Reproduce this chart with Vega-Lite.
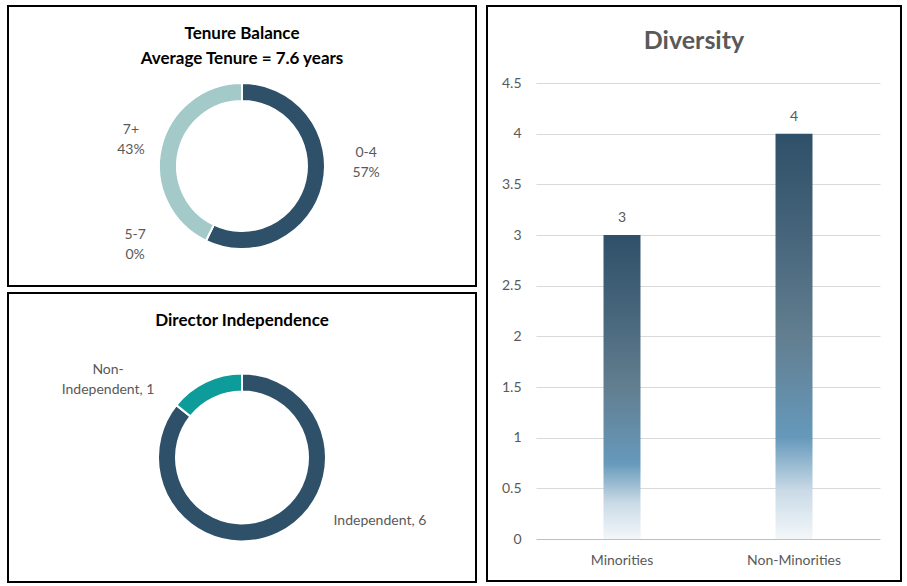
{
  "$schema": "https://vega.github.io/schema/vega-lite/v6.json",
  "padding": {"left": 7, "top": 5, "right": 5, "bottom": 4},
  "background": "white",
  "config": {
    "font": "Lato",
    "view": {"stroke": "black", "strokeWidth": 2}
  },
  "datasets": {
    "tenure": [
      {"cat": "0-4", "count": 4, "ord": 1, "label": "0-4\n57%"},
      {"cat": "5-7", "count": 0, "ord": 2, "label": "5-7\n0%"},
      {"cat": "7+", "count": 3, "ord": 3, "label": "7+\n43%"}
    ],
    "indep": [
      {"cat": "Independent", "count": 6, "ord": 1, "label": "Independent, 6"},
      {"cat": "Non-Independent", "count": 1, "ord": 2, "label": "Non-\nIndependent, 1"}
    ],
    "diversity": [
      {"group": "Minorities", "count": 3},
      {"group": "Non-Minorities", "count": 4}
    ]
  },
  "spacing": 9,
  "resolve": {"scale": {"color": "independent"}},
  "hconcat": [
    {
      "spacing": 5,
      "resolve": {"scale": {"color": "independent"}},
      "vconcat": [
        {
          "width": 468,
          "height": 280,
          "view": {"stroke": "black", "strokeWidth": 2},
          "title": {"text": ["Tenure Balance", "Average Tenure = 7.6 years"], "fontSize": 17, "fontWeight": "bold", "color": "black", "offset": -62, "baseline": "top", "frame": "group", "anchor": "middle", "lineHeight": 25},
          "data": {"name": "tenure"},
          "encoding": {
            "theta": {"field": "count", "type": "quantitative", "stack": true},
            "order": {"field": "ord", "type": "quantitative"}
          },
          "layer": [
            {
              "mark": {"type": "arc", "outerRadius": 83, "innerRadius": 65, "stroke": "white", "strokeWidth": 2, "yOffset": 20},
              "encoding": {
                "color": {"field": "cat", "type": "nominal", "scale": {"domain": ["0-4", "5-7", "7+"], "range": ["#2E5069", "#7FA9B5", "#A3C9C8"]}, "legend": null}
              }
            },
            {
              "mark": {"type": "text", "radius": 115, "yOffset": 20, "dx": 12, "dy": -39, "fontSize": 14, "color": "#595959", "lineBreak": "\n", "lineHeight": 20},
              "encoding": {"text": {"condition": {"test": "datum.cat === '0-4'", "field": "label"}, "value": ""}}
            },
            {
              "mark": {"type": "text", "radius": 115, "yOffset": 20, "dx": 1, "dy": -10, "fontSize": 14, "color": "#595959", "lineBreak": "\n", "lineHeight": 20},
              "encoding": {"text": {"condition": {"test": "datum.cat === '7+'", "field": "label"}, "value": ""}}
            },
            {
              "mark": {"type": "text", "radius": 115, "yOffset": 20, "dx": -57, "dy": -35, "fontSize": 14, "color": "#595959", "lineBreak": "\n", "lineHeight": 20},
              "encoding": {"text": {"condition": {"test": "datum.cat === '5-7'", "field": "label"}, "value": ""}}
            }
          ]
        },
        {
          "width": 468,
          "height": 289,
          "view": {"stroke": "black", "strokeWidth": 2},
          "title": {"text": "Director Independence", "fontSize": 17, "fontWeight": "bold", "color": "black", "offset": -37, "baseline": "top", "frame": "group", "anchor": "middle"},
          "data": {"name": "indep"},
          "encoding": {
            "theta": {"field": "count", "type": "quantitative", "stack": true},
            "order": {"field": "ord", "type": "quantitative"}
          },
          "layer": [
            {
              "mark": {"type": "arc", "outerRadius": 84, "innerRadius": 66, "stroke": "white", "strokeWidth": 2, "yOffset": 20},
              "encoding": {
                "color": {"field": "cat", "type": "nominal", "scale": {"domain": ["Independent", "Non-Independent"], "range": ["#2E5069", "#0E9C9A"]}, "legend": null}
              }
            },
            {
              "mark": {"type": "text", "radius": 115, "yOffset": 20, "dx": 88, "dy": -40, "fontSize": 14, "color": "#595959", "lineBreak": "\n", "lineHeight": 20},
              "encoding": {"text": {"condition": {"test": "datum.cat === 'Independent'", "field": "label"}, "value": ""}}
            },
            {
              "mark": {"type": "text", "radius": 115, "yOffset": 20, "dx": -84, "dy": 16, "fontSize": 14, "color": "#595959", "lineBreak": "\n", "lineHeight": 20},
              "encoding": {"text": {"condition": {"test": "datum.cat === 'Non-Independent'", "field": "label"}, "value": ""}}
            }
          ]
        }
      ]
    },
    {
      "width": 414,
      "height": 575,
      "title": {"text": "Diversity", "fontSize": 25, "fontWeight": "bold", "color": "#595959", "offset": -48, "baseline": "top", "frame": "group", "anchor": "middle"},
      "data": {"name": "diversity"},
      "encoding": {
        "x": {
          "field": "group", "type": "nominal", "sort": null,
          "scale": {"range": [49, 393], "paddingInner": 0.785, "paddingOuter": 0.3925},
          "axis": {"title": null, "labelAngle": 0, "ticks": false, "domain": false, "grid": false, "labelFontSize": 14, "labelColor": "#595959", "offset": -30, "labelPadding": 2}
        },
        "y": {
          "field": "count", "type": "quantitative",
          "scale": {"domain": [0, 4.5], "range": [533, 77], "nice": false, "zero": true},
          "axis": {
            "title": null, "values": [0, 0.5, 1, 1.5, 2, 2.5, 3, 3.5, 4, 4.5], "format": ".1~f",
            "domain": false, "ticks": false, "labelFontSize": 14, "labelColor": "#595959",
            "offset": -40, "labelPadding": 6,
            "gridColor": {"condition": {"test": "datum.value === 0", "value": "#bfbfbf"}, "value": "#d9d9d9"},
            "gridWidth": 1
          }
        }
      },
      "layer": [
        {
          "mark": {
            "type": "bar",
            "color": {
              "gradient": "linear", "x1": 0, "y1": 1, "x2": 0, "y2": 0,
              "stops": [
                {"offset": 0, "color": "#f3f7fa"},
                {"offset": 0.12, "color": "#c9dae6"},
                {"offset": 0.25, "color": "#6699bb"},
                {"offset": 0.5, "color": "#627e90"},
                {"offset": 0.75, "color": "#46657b"},
                {"offset": 1, "color": "#2f5069"}
              ]
            }
          }
        },
        {
          "mark": {"type": "text", "dy": -17, "fontSize": 14, "color": "#595959"},
          "encoding": {"text": {"field": "count", "type": "quantitative"}}
        }
      ]
    }
  ]
}
